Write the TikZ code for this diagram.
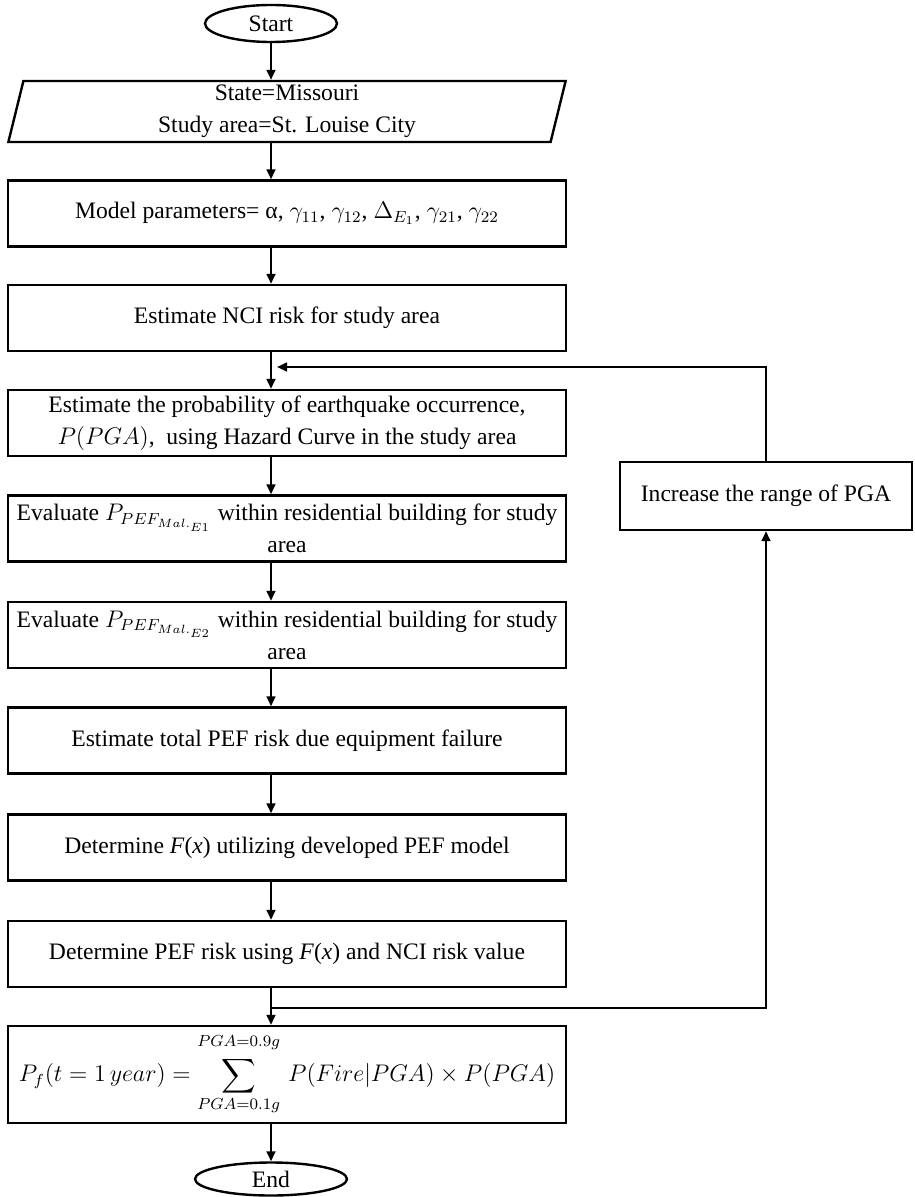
\documentclass[tikz,border=0pt]{standalone}
\usepackage{fontspec}
\setmainfont{Liberation Serif}
\usepackage{amsmath}
\usetikzlibrary{arrows.meta, positioning, shapes.geometric, calc}

\begin{document}
\begin{tikzpicture}[
      x=0.5pt, y=-0.5pt,
      every node/.style={font=\fontsize{11.8}{16}\selectfont},
      box/.style={draw, line width=1.2pt, minimum width=279pt, minimum height=33pt, align=center, inner sep=1.5pt},
      term/.style={draw, line width=1.2pt, ellipse, minimum width=66pt, minimum height=18.5pt, inner sep=1pt},
      io/.style={draw, line width=1.2pt, trapezium, trapezium left angle=82.5, trapezium right angle=97.5,
                 trapezium stretches=true, minimum width=279pt, minimum height=30.5pt, align=center, inner sep=1pt},
      arrow/.style={-{Triangle[length=5pt, width=4.4pt]}, line width=1.1pt}
    ]
      \useasboundingbox (0,0) rectangle (914,1197);
      \node[term] (start) at (271,23.5) {Start};
      \node[io] (input) at (287,111.5) {State=Missouri\\Study area=St. Louise City};
      \node[box] (model) at (287,213.5) {Model parameters= α, $\gamma_{11}$, $\gamma_{12}$, $\Delta_{E_1}$, $\gamma_{21}$, $\gamma_{22}$};
      \node[box] (nci) at (287,318) {Estimate NCI risk for study area};
      \node[box] (prob) at (287,423) {Estimate the probability of earthquake occurrence,\\$P(PGA)$,\ \ using Hazard Curve in the study area};
      \node[box] (pe1) at (287,528.5) {Evaluate $P_{PEF_{Mal._{E1}}}$ within residential building for study\\area};
      \node[box] (pe2) at (287,635) {Evaluate $P_{PEF_{Mal._{E2}}}$ within residential building for study\\area};
      \node[box] (total) at (287,740.5) {Estimate total PEF risk due equipment failure};
      \node[box] (fx) at (287,847.5) {Determine \textit{F}(\textit{x}) utilizing developed PEF model};
      \node[box] (risk) at (287,954) {Determine PEF risk using \textit{F}(\textit{x}) and NCI risk value};
      \node[box, minimum height=48.5pt] (sum) at (287,1074.5)
        {$\displaystyle P_f(t=1\,year)=\sum_{PGA=0.1g}^{\raisebox{2.5pt}{$\scriptstyle PGA=0.9g$}}\, P(Fire|PGA)\times P(PGA)$};
      \node[term, minimum width=76pt, minimum height=16.5pt] (end) at (271,1179) {End};
      \node[box, minimum width=146pt, minimum height=34pt] (inc) at (766,496) {Increase the range of PGA};

      % main line and loop points
      \coordinate (mx) at (271,0);
      \coordinate (mrg) at (271,1008);
      \coordinate (back) at (277,367);

      \draw[arrow] (start.south) -- (input.north -| mx);
      \foreach \a/\b in {input/model, model/nci, nci/prob, prob/pe1, pe1/pe2,
                         pe2/total, total/fx, fx/risk, risk/sum}
        \draw[arrow] (\a.south -| mx) -- (\b.north -| mx);
      \draw[arrow] (sum.south -| mx) -- (end.north);
      \draw[arrow] (mrg) -| (inc.south);
      \draw[arrow] (inc.north) |- (back);
    \end{tikzpicture}
\end{document}
